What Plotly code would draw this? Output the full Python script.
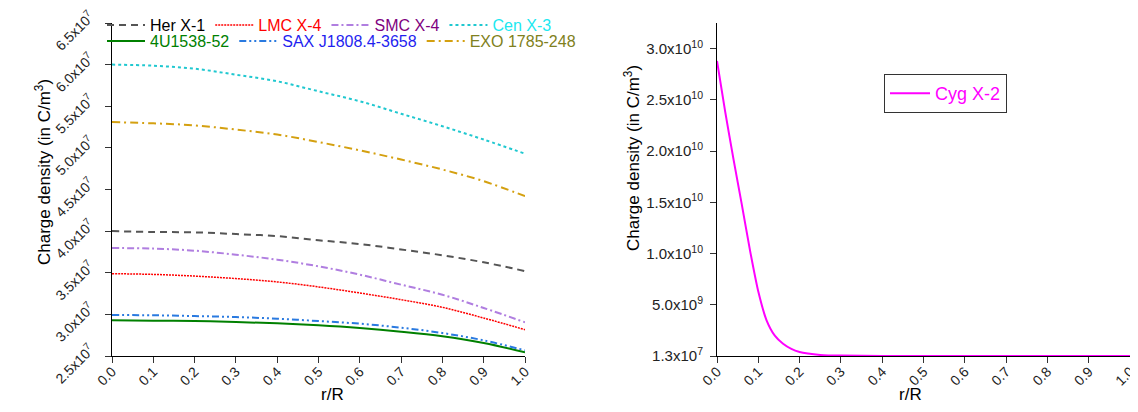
import plotly.graph_objects as go

W, H = 1138, 412

# ---------------- data ----------------
r = [0.0, 0.1, 0.2, 0.3, 0.4, 0.5, 0.6, 0.7, 0.8, 0.9, 1.0]
r_labels = ["0.0", "0.1", "0.2", "0.3", "0.4", "0.5", "0.6", "0.7", "0.8", "0.9", "1.0"]

# charge density in units of 1e7 C/m^3
her_x1 = [4.00, 3.99, 3.985, 3.965, 3.94, 3.89, 3.845, 3.78, 3.71, 3.625, 3.52]
lmc_x4 = [3.489, 3.48, 3.46, 3.43, 3.39, 3.33, 3.257, 3.176, 3.085, 2.956, 2.816]
smc_x4 = [3.797, 3.79, 3.765, 3.717, 3.657, 3.577, 3.477, 3.357, 3.236, 3.077, 2.905]
cen_x3 = [6.00, 5.987, 5.951, 5.879, 5.80, 5.68, 5.56, 5.41, 5.26, 5.10, 4.93]
u1538 = [2.929, 2.924, 2.92, 2.908, 2.893, 2.869, 2.836, 2.792, 2.737, 2.656, 2.544]
sax_j1808 = [2.992, 2.989, 2.98, 2.968, 2.948, 2.92, 2.888, 2.84, 2.776, 2.688, 2.568]
exo_1785 = [5.31, 5.295, 5.27, 5.22, 5.16, 5.07, 4.97, 4.86, 4.74, 4.60, 4.42]

# Cyg X-2, charge density in units of 1e10 C/m^3
r_cyg = [0.0, 0.02, 0.04, 0.06, 0.08, 0.10, 0.12, 0.14, 0.16, 0.18, 0.20, 0.22,
         0.25, 0.30, 0.40, 0.50, 0.60, 0.70, 0.80, 0.90, 1.0]
cyg_x2 = [2.88, 2.38, 1.92, 1.48, 1.03, 0.63, 0.35, 0.20, 0.12, 0.07, 0.04, 0.025,
          0.012, 0.005, 0.0025, 0.002, 0.0018, 0.0016, 0.0015, 0.0014, 0.0013]

left_yticks = [2.5e7, 3.0e7, 3.5e7, 4.0e7, 4.5e7, 5.0e7, 5.5e7, 6.0e7, 6.5e7]
left_ylabels = ["2.5x10<sup>7</sup>", "3.0x10<sup>7</sup>", "3.5x10<sup>7</sup>",
                "4.0x10<sup>7</sup>", "4.5x10<sup>7</sup>", "5.0x10<sup>7</sup>",
                "5.5x10<sup>7</sup>", "6.0x10<sup>7</sup>", "6.5x10<sup>7</sup>"]
right_yticks = [1.3e7, 5.0e9, 1.0e10, 1.5e10, 2.0e10, 2.5e10, 3.0e10]
right_ylabels = ["1.3x10<sup>7</sup>", "5.0x10<sup>9</sup>", "1.0x10<sup>10</sup>",
                 "1.5x10<sup>10</sup>", "2.0x10<sup>10</sup>", "2.5x10<sup>10</sup>",
                 "3.0x10<sup>10</sup>"]

FONT = "Arial, 'Liberation Sans', sans-serif"

# ---------------- figure ----------------
fig = go.Figure()

series = [
    ("Her X-1", her_x1, "#555555", "7px,5px", 2.0, "#000000", "legend"),
    ("LMC X-4", lmc_x4, "#ff0000", "2px,1px", 1.5, "#ff0000", "legend"),
    ("SMC X-4", smc_x4, "#b07ee0", "7px,3px,2px,3px", 2.0, "#800080", "legend"),
    ("Cen X-3", cen_x3, "#20c8d0", "3px,3px", 2.0, "#20e8f0", "legend"),
    ("4U1538-52", u1538, "#008000", "solid", 2.0, "#008000", "legend2"),
    ("SAX J1808.4-3658", sax_j1808, "#2a7ae0", "7px,3px,2px,3px,2px,3px", 2.0, "#1f1ff0", "legend2"),
    ("EXO 1785-248", exo_1785, "#d4a010", "8px,4px,2px,4px", 2.0, "#808020", "legend2"),
]

for name, vals, color, dash, width, tcol, leg in series:
    fig.add_trace(go.Scatter(
        x=r, y=[v * 1e7 for v in vals], mode="lines",
        line=dict(color=color, dash=dash, width=width, shape="spline", smoothing=1.0),
        name=f"<span style='color:{tcol}'>{name}</span>",
        legend=leg, xaxis="x", yaxis="y",
    ))

fig.add_trace(go.Scatter(
    x=r_cyg, y=[v * 1e10 for v in cyg_x2], mode="lines",
    line=dict(color="#ff00ff", width=2, shape="spline", smoothing=0.6),
    name="<span style='color:#ff00ff'>Cyg X-2</span>",
    legend="legend3", xaxis="x2", yaxis="y2",
))

def px_x(p):
    return p / W

def px_y(p):
    return 1 - p / H

ydom = [px_y(348), px_y(15)]

axis_common = dict(
    showline=True, linecolor="black", linewidth=1, showgrid=False, zeroline=False,
    ticks="outside", ticklen=6, tickcolor="#333333", tickwidth=1, automargin=False,
    ticklabeloverflow="allow",
)

fig.update_layout(
    template="none",
    width=W, height=H,
    margin=dict(l=0, r=0, t=0, b=0, pad=0),
    paper_bgcolor="white", plot_bgcolor="white",
    font=dict(family=FONT, size=14, color="black"),
    xaxis=dict(domain=[px_x(104), px_x(517)], range=[0, 1], anchor="y",
               tickvals=r, ticktext=r_labels, tickangle=-45, ticklabelstandoff=-5,
               tickfont=dict(family=FONT, size=14, color="#222222"), **axis_common),
    yaxis=dict(domain=ydom, range=[2.5e7, 6.5e7], anchor="x",
               tickvals=left_yticks, ticktext=left_ylabels, tickangle=-45,
               ticklabelshift=-8, ticklabelstandoff=12,
               tickfont=dict(family=FONT, size=14, color="#222222"), **axis_common),
    xaxis2=dict(domain=[px_x(709), px_x(1122)], range=[0, 1], anchor="y2",
                tickvals=r, ticktext=r_labels, tickangle=-45, ticklabelstandoff=-5,
                tickfont=dict(family=FONT, size=14, color="#222222"), **axis_common),
    yaxis2=dict(domain=ydom, range=[1.3e7, 3.25e10], anchor="x2",
                tickvals=right_yticks, ticktext=right_ylabels, tickangle=0,
                ticklabelstandoff=4,
                tickfont=dict(family=FONT, size=15, color="#222222"), **axis_common),
    legend=dict(x=px_x(94), y=1.0, xanchor="left", yanchor="top",
                orientation="h", bgcolor="rgba(0,0,0,0)", borderwidth=0,
                font=dict(family=FONT, size=16), itemwidth=38, tracegroupgap=0),
    legend2=dict(x=px_x(94), y=px_y(16), xanchor="left", yanchor="top",
                 orientation="h", bgcolor="rgba(0,0,0,0)", borderwidth=0,
                 font=dict(family=FONT, size=16), itemwidth=38, tracegroupgap=0),
    legend3=dict(x=px_x(876), y=px_y(66), xanchor="left", yanchor="top",
                 orientation="v", bgcolor="white", borderwidth=1, bordercolor="#333333",
                 font=dict(family=FONT, size=18), itemwidth=40),
    showlegend=True,
    annotations=[
        dict(text="Charge density (in C/m<sup>3</sup>)", x=px_x(22), y=px_y(164),
             xref="paper", yref="paper", showarrow=False, textangle=-90,
             font=dict(family=FONT, size=17, color="black")),
        dict(text="Charge density (in C/m<sup>3</sup>)", x=px_x(624), y=px_y(150),
             xref="paper", yref="paper", showarrow=False, textangle=-90,
             font=dict(family=FONT, size=17, color="black")),
        dict(text="r/R", x=px_x(311), y=px_y(398), xref="paper", yref="paper",
             showarrow=False, font=dict(family=FONT, size=17, color="black")),
        dict(text="r/R", x=px_x(916), y=px_y(398), xref="paper", yref="paper",
             showarrow=False, font=dict(family=FONT, size=17, color="black")),
    ],
)

fig.write_html("out.html")
